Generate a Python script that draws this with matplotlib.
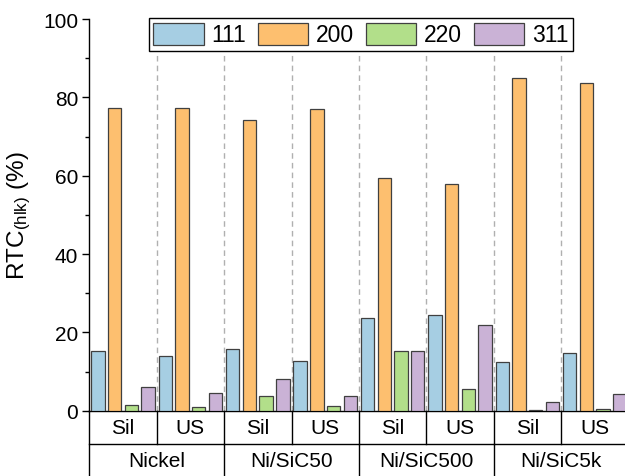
import matplotlib.pyplot as plt
import numpy as np
from matplotlib.ticker import MultipleLocator

plt.rcParams.update({
    "font.family": ["Liberation Sans", "DejaVu Sans"],
    "mathtext.fontset": "custom",
    "mathtext.rm": "Liberation Sans",
    "mathtext.it": "Liberation Sans:italic",
})

# data
materials = ["Nickel", "Ni/SiC50", "Ni/SiC500", "Ni/SiC5k"]
methods = ["Sil", "US"]
planes = ["111", "200", "220", "311"]
rtc_111 = [15.2, 13.9, 15.7, 12.8, 23.7, 24.5, 12.4, 14.7]
rtc_200 = [77.3, 77.3, 74.3, 76.9, 59.3, 58.0, 85.0, 83.6]
rtc_220 = [1.4, 1.0, 3.7, 1.2, 15.2, 5.5, 0.3, 0.5]
rtc_311 = [6.0, 4.4, 8.1, 3.7, 15.3, 21.8, 2.3, 4.3]
colors = ["#a6cee3", "#fdbf6f", "#b2df8a", "#cab2d6"]

series = [rtc_111, rtc_200, rtc_220, rtc_311]
n = len(rtc_111)
x = np.arange(n) + 0.5

fig = plt.figure(figsize=(6.25, 4.77), dpi=100)
ax = fig.add_axes([89.3 / 625, 1 - 411.7 / 477, 539.2 / 625, 391.7 / 477])

step = 0.248
for j, vals in enumerate(series):
    ax.bar(x + (j - 1.5) * step, vals, width=0.198, color=colors[j],
           edgecolor="#404040", linewidth=0.9, label=planes[j], zorder=3)

# dashed separators between sub-groups
for b in range(1, n):
    ax.axvline(b, color="#b0b0b0", linestyle=(0, (4, 3)), linewidth=1, zorder=1)

ax.set_xlim(0, n)
ax.set_ylim(0, 100)
ax.set_xticks([])
ax.yaxis.set_major_locator(MultipleLocator(20))
ax.yaxis.set_minor_locator(MultipleLocator(10))
ax.tick_params(axis="y", which="major", direction="out", length=5, width=1,
               labelsize=15, pad=3)
ax.tick_params(axis="y", which="minor", direction="out", length=3, width=1)
for s in ["top", "right"]:
    ax.spines[s].set_visible(False)
ax.spines["left"].set_linewidth(1)
ax.spines["bottom"].set_linewidth(1)

ax.set_ylabel(r"RTC$_{\mathrm{(hlk)}}$ (%)", fontsize=17.5, labelpad=7)

# category table under the axis
row1 = -33.3 / 391.7
bottom = -0.25
kw = dict(color="black", linewidth=1, clip_on=False, transform=ax.get_xaxis_transform())
ax.plot([0, 0], [0, bottom], **kw)
ax.plot([0, n + 1], [row1, row1], **kw)
for b in range(1, n + 1):
    ax.plot([b, b], [0, row1], **kw)
for b in range(2, n + 1, 2):
    ax.plot([b, b], [row1, bottom], **kw)
for i in range(n):
    ax.text(x[i], row1 / 2, methods[i % 2], ha="center", va="center", fontsize=15,
            transform=ax.get_xaxis_transform())
for k, m in enumerate(materials):
    ax.text(2 * k + 1, -50 / 391.7, m, ha="center", va="center", fontsize=15,
            transform=ax.get_xaxis_transform())

leg = ax.legend(loc="upper center", bbox_to_anchor=(361 / 625, 1 - 19 / 477),
                bbox_transform=fig.transFigure, ncol=4, fontsize=16.5,
                handlelength=2.2, handleheight=1.1, handletextpad=0.35,
                columnspacing=0.5, borderpad=0.2, borderaxespad=0,
                fancybox=False, framealpha=1, edgecolor="black")
leg.get_frame().set_linewidth(1)
leg.set_zorder(5)

fig.savefig("out.png", dpi=100)
